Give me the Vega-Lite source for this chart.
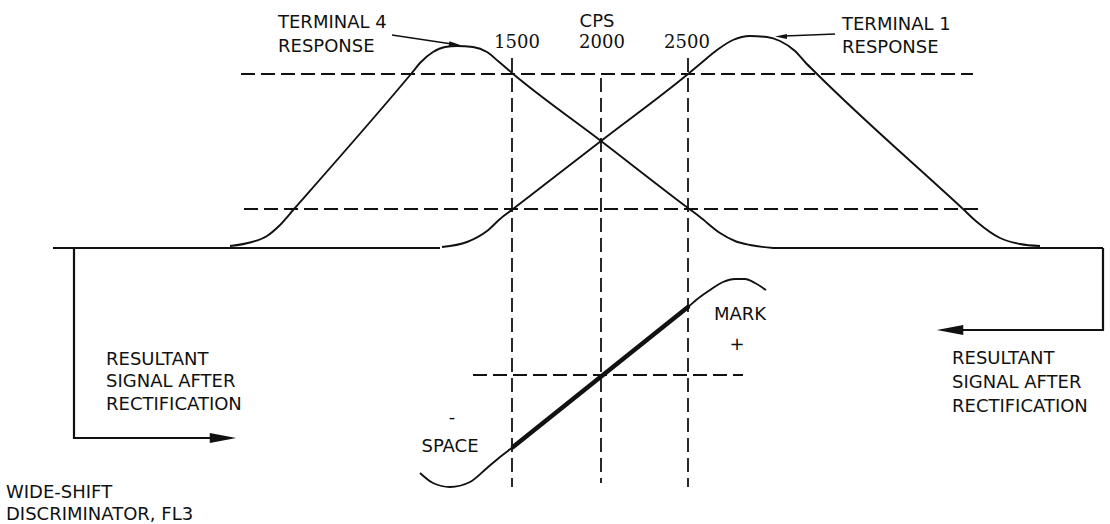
{
  "$schema": "https://vega.github.io/schema/vega-lite/v6.json",
  "width": 1110,
  "height": 524,
  "autosize": {"type": "fit", "contains": "padding"},
  "padding": 0,
  "background": "white",
  "config": {"view": {"stroke": null}},
  "datasets": {
    "curves": [
      {"g": "t4", "o": 1, "x": 230, "y": 246}, {"g": "t4", "o": 2, "x": 252, "y": 242}, {"g": "t4", "o": 3, "x": 267, "y": 236},
      {"g": "t4", "o": 4, "x": 279, "y": 226}, {"g": "t4", "o": 5, "x": 294, "y": 209}, {"g": "t4", "o": 6, "x": 411, "y": 74},
      {"g": "t4", "o": 7, "x": 421, "y": 62}, {"g": "t4", "o": 8, "x": 433, "y": 52}, {"g": "t4", "o": 9, "x": 445, "y": 47},
      {"g": "t4", "o": 10, "x": 457, "y": 46}, {"g": "t4", "o": 11, "x": 473, "y": 47}, {"g": "t4", "o": 12, "x": 487, "y": 52},
      {"g": "t4", "o": 13, "x": 498, "y": 61}, {"g": "t4", "o": 14, "x": 512, "y": 73}, {"g": "t4", "o": 15, "x": 601, "y": 141},
      {"g": "t4", "o": 16, "x": 688, "y": 208}, {"g": "t4", "o": 17, "x": 700, "y": 217}, {"g": "t4", "o": 18, "x": 720, "y": 233},
      {"g": "t4", "o": 19, "x": 735, "y": 241}, {"g": "t4", "o": 20, "x": 750, "y": 245}, {"g": "t4", "o": 21, "x": 773, "y": 248},
      {"g": "t1", "o": 1, "x": 442, "y": 247}, {"g": "t1", "o": 2, "x": 467, "y": 242}, {"g": "t1", "o": 3, "x": 487, "y": 231},
      {"g": "t1", "o": 4, "x": 500, "y": 219}, {"g": "t1", "o": 5, "x": 513, "y": 209}, {"g": "t1", "o": 6, "x": 601, "y": 141},
      {"g": "t1", "o": 7, "x": 688, "y": 74}, {"g": "t1", "o": 8, "x": 700, "y": 64}, {"g": "t1", "o": 9, "x": 717, "y": 50},
      {"g": "t1", "o": 10, "x": 733, "y": 40}, {"g": "t1", "o": 11, "x": 750, "y": 36}, {"g": "t1", "o": 12, "x": 767, "y": 37},
      {"g": "t1", "o": 13, "x": 780, "y": 41}, {"g": "t1", "o": 14, "x": 795, "y": 51}, {"g": "t1", "o": 15, "x": 805, "y": 62},
      {"g": "t1", "o": 16, "x": 817, "y": 74}, {"g": "t1", "o": 17, "x": 963, "y": 209}, {"g": "t1", "o": 18, "x": 977, "y": 222},
      {"g": "t1", "o": 19, "x": 1000, "y": 238}, {"g": "t1", "o": 20, "x": 1020, "y": 244}, {"g": "t1", "o": 21, "x": 1040, "y": 246},
      {"g": "s", "o": 1, "x": 420, "y": 473}, {"g": "s", "o": 2, "x": 433, "y": 483}, {"g": "s", "o": 3, "x": 450, "y": 487},
      {"g": "s", "o": 4, "x": 470, "y": 482}, {"g": "s", "o": 5, "x": 487, "y": 468}, {"g": "s", "o": 6, "x": 500, "y": 457},
      {"g": "s", "o": 7, "x": 513, "y": 447}, {"g": "s", "o": 8, "x": 602, "y": 375}, {"g": "s", "o": 9, "x": 688, "y": 307},
      {"g": "s", "o": 10, "x": 700, "y": 297}, {"g": "s", "o": 11, "x": 710, "y": 290}, {"g": "s", "o": 12, "x": 723, "y": 282},
      {"g": "s", "o": 13, "x": 735, "y": 279}, {"g": "s", "o": 14, "x": 745, "y": 279}, {"g": "s", "o": 15, "x": 755, "y": 283},
      {"g": "s", "o": 16, "x": 766, "y": 290}
    ],
    "polylines": [
      {"g": "baseL", "o": 1, "x": 53, "y": 248}, {"g": "baseL", "o": 2, "x": 440, "y": 248},
      {"g": "baseR", "o": 1, "x": 773, "y": 248}, {"g": "baseR", "o": 2, "x": 1103, "y": 248},
      {"g": "brL", "o": 1, "x": 74, "y": 248}, {"g": "brL", "o": 2, "x": 74, "y": 438}, {"g": "brL", "o": 3, "x": 215, "y": 438},
      {"g": "brR", "o": 1, "x": 1103, "y": 248}, {"g": "brR", "o": 2, "x": 1103, "y": 330}, {"g": "brR", "o": 3, "x": 960, "y": 330}
    ],
    "pointers": [
      {"g": "a4", "o": 1, "x": 392, "y": 35}, {"g": "a4", "o": 2, "x": 452, "y": 44},
      {"g": "a1", "o": 1, "x": 835, "y": 34}, {"g": "a1", "o": 2, "x": 785, "y": 36}
    ],
    "thick": [
      {"g": "lin", "o": 1, "x": 513, "y": 447}, {"g": "lin", "o": 2, "x": 688, "y": 307}
    ],
    "dashed": [
      {"g": "up", "o": 1, "x": 241, "y": 74}, {"g": "up", "o": 2, "x": 973, "y": 74},
      {"g": "lo", "o": 1, "x": 244, "y": 209}, {"g": "lo", "o": 2, "x": 978, "y": 209},
      {"g": "v1500", "o": 1, "x": 512, "y": 58}, {"g": "v1500", "o": 2, "x": 512, "y": 487},
      {"g": "v2000", "o": 1, "x": 601, "y": 78}, {"g": "v2000", "o": 2, "x": 601, "y": 483},
      {"g": "v2500", "o": 1, "x": 688, "y": 58}, {"g": "v2500", "o": 2, "x": 688, "y": 487},
      {"g": "disc", "o": 1, "x": 473, "y": 375}, {"g": "disc", "o": 2, "x": 743, "y": 375}
    ],
    "heads": [
      {"k": "bigR", "x": 223, "y": 438},
      {"k": "bigL", "x": 950, "y": 330},
      {"k": "smallR", "x": 455, "y": 44.5},
      {"k": "smallL", "x": 781, "y": 36.5}
    ],
    "labels": [
      {"k": "left", "t": "TERMINAL 4", "x": 278, "y": 23},
      {"k": "left", "t": "RESPONSE", "x": 278, "y": 47},
      {"k": "left", "t": "TERMINAL 1", "x": 842, "y": 25},
      {"k": "left", "t": "RESPONSE", "x": 842, "y": 48},
      {"k": "left", "t": "RESULTANT", "x": 106, "y": 360},
      {"k": "left", "t": "SIGNAL AFTER", "x": 106, "y": 382},
      {"k": "left", "t": "RECTIFICATION", "x": 106, "y": 405},
      {"k": "left", "t": "RESULTANT", "x": 952, "y": 359},
      {"k": "left", "t": "SIGNAL AFTER", "x": 952, "y": 383},
      {"k": "left", "t": "RECTIFICATION", "x": 952, "y": 407},
      {"k": "left", "t": "WIDE-SHIFT", "x": 6, "y": 493},
      {"k": "left", "t": "DISCRIMINATOR, FL3", "x": 6, "y": 515},
      {"k": "center", "t": "CPS", "x": 597, "y": 22},
      {"k": "center", "t": "MARK", "x": 740, "y": 315},
      {"k": "center", "t": "+", "x": 737, "y": 345},
      {"k": "center", "t": "-", "x": 452, "y": 418},
      {"k": "center", "t": "SPACE", "x": 450, "y": 447},
      {"k": "num", "t": "1500", "x": 517, "y": 43},
      {"k": "num", "t": "2000", "x": 602, "y": 43},
      {"k": "num", "t": "2500", "x": 687, "y": 43}
    ]
  },
  "layer": [
    {
      "data": {"name": "dashed"},
      "mark": {"type": "line", "color": "#111", "strokeWidth": 1.8, "strokeDash": [14, 6]},
      "encoding": {
        "x": {"field": "x", "type": "quantitative", "scale": {"domain": [0, 1110], "nice": false, "zero": false}, "axis": null},
        "y": {"field": "y", "type": "quantitative", "scale": {"domain": [0, 524], "nice": false, "zero": false, "reverse": true}, "axis": null},
        "detail": {"field": "g"},
        "order": {"field": "o", "type": "quantitative"}
      }
    },
    {
      "data": {"name": "curves"},
      "mark": {"type": "line", "color": "#111", "strokeWidth": 1.9, "interpolate": "monotone"},
      "encoding": {
        "x": {"field": "x", "type": "quantitative", "scale": {"domain": [0, 1110], "nice": false, "zero": false}, "axis": null},
        "y": {"field": "y", "type": "quantitative", "scale": {"domain": [0, 524], "nice": false, "zero": false, "reverse": true}, "axis": null},
        "detail": {"field": "g"},
        "order": {"field": "o", "type": "quantitative"}
      }
    },
    {
      "data": {"name": "polylines"},
      "mark": {"type": "line", "color": "#111", "strokeWidth": 2.2},
      "encoding": {
        "x": {"field": "x", "type": "quantitative", "scale": {"domain": [0, 1110], "nice": false, "zero": false}, "axis": null},
        "y": {"field": "y", "type": "quantitative", "scale": {"domain": [0, 524], "nice": false, "zero": false, "reverse": true}, "axis": null},
        "detail": {"field": "g"},
        "order": {"field": "o", "type": "quantitative"}
      }
    },
    {
      "data": {"name": "pointers"},
      "mark": {"type": "line", "color": "#111", "strokeWidth": 1.3},
      "encoding": {
        "x": {"field": "x", "type": "quantitative", "scale": {"domain": [0, 1110], "nice": false, "zero": false}, "axis": null},
        "y": {"field": "y", "type": "quantitative", "scale": {"domain": [0, 524], "nice": false, "zero": false, "reverse": true}, "axis": null},
        "detail": {"field": "g"},
        "order": {"field": "o", "type": "quantitative"}
      }
    },
    {
      "data": {"name": "thick"},
      "mark": {"type": "line", "color": "#111", "strokeWidth": 4.5, "strokeCap": "round"},
      "encoding": {
        "x": {"field": "x", "type": "quantitative", "scale": {"domain": [0, 1110], "nice": false, "zero": false}, "axis": null},
        "y": {"field": "y", "type": "quantitative", "scale": {"domain": [0, 524], "nice": false, "zero": false, "reverse": true}, "axis": null},
        "detail": {"field": "g"},
        "order": {"field": "o", "type": "quantitative"}
      }
    },
    {
      "data": {"name": "heads"},
      "transform": [{"filter": "datum.k === 'bigR'"}],
      "mark": {"type": "point", "filled": true, "color": "#111", "opacity": 1, "size": 700, "shape": "M -1 -0.38 L 1 0 L -1 0.38 Z"},
      "encoding": {
        "x": {"field": "x", "type": "quantitative", "scale": {"domain": [0, 1110], "nice": false, "zero": false}, "axis": null},
        "y": {"field": "y", "type": "quantitative", "scale": {"domain": [0, 524], "nice": false, "zero": false, "reverse": true}, "axis": null}
      }
    },
    {
      "data": {"name": "heads"},
      "transform": [{"filter": "datum.k === 'bigL'"}],
      "mark": {"type": "point", "filled": true, "color": "#111", "opacity": 1, "size": 700, "shape": "M 1 -0.38 L -1 0 L 1 0.38 Z"},
      "encoding": {
        "x": {"field": "x", "type": "quantitative", "scale": {"domain": [0, 1110], "nice": false, "zero": false}, "axis": null},
        "y": {"field": "y", "type": "quantitative", "scale": {"domain": [0, 524], "nice": false, "zero": false, "reverse": true}, "axis": null}
      }
    },
    {
      "data": {"name": "heads"},
      "transform": [{"filter": "datum.k === 'smallR'"}],
      "mark": {"type": "point", "filled": true, "color": "#111", "opacity": 1, "size": 144, "angle": 8, "shape": "M -1 -0.4 L 1 0 L -1 0.4 Z"},
      "encoding": {
        "x": {"field": "x", "type": "quantitative", "scale": {"domain": [0, 1110], "nice": false, "zero": false}, "axis": null},
        "y": {"field": "y", "type": "quantitative", "scale": {"domain": [0, 524], "nice": false, "zero": false, "reverse": true}, "axis": null}
      }
    },
    {
      "data": {"name": "heads"},
      "transform": [{"filter": "datum.k === 'smallL'"}],
      "mark": {"type": "point", "filled": true, "color": "#111", "opacity": 1, "size": 144, "shape": "M 1 -0.4 L -1 0 L 1 0.4 Z"},
      "encoding": {
        "x": {"field": "x", "type": "quantitative", "scale": {"domain": [0, 1110], "nice": false, "zero": false}, "axis": null},
        "y": {"field": "y", "type": "quantitative", "scale": {"domain": [0, 524], "nice": false, "zero": false, "reverse": true}, "axis": null}
      }
    },
    {
      "data": {"name": "labels"},
      "transform": [{"filter": "datum.k === 'left'"}],
      "mark": {"type": "text", "align": "left", "baseline": "middle", "font": "DejaVu Sans", "fontSize": 18, "color": "#111"},
      "encoding": {
        "x": {"field": "x", "type": "quantitative", "scale": {"domain": [0, 1110], "nice": false, "zero": false}, "axis": null},
        "y": {"field": "y", "type": "quantitative", "scale": {"domain": [0, 524], "nice": false, "zero": false, "reverse": true}, "axis": null},
        "text": {"field": "t"}
      }
    },
    {
      "data": {"name": "labels"},
      "transform": [{"filter": "datum.k === 'center'"}],
      "mark": {"type": "text", "align": "center", "baseline": "middle", "font": "DejaVu Sans", "fontSize": 18, "color": "#111"},
      "encoding": {
        "x": {"field": "x", "type": "quantitative", "scale": {"domain": [0, 1110], "nice": false, "zero": false}, "axis": null},
        "y": {"field": "y", "type": "quantitative", "scale": {"domain": [0, 524], "nice": false, "zero": false, "reverse": true}, "axis": null},
        "text": {"field": "t"}
      }
    },
    {
      "data": {"name": "labels"},
      "transform": [{"filter": "datum.k === 'num'"}],
      "mark": {"type": "text", "align": "center", "baseline": "middle", "font": "DejaVu Serif", "fontSize": 18, "color": "#111"},
      "encoding": {
        "x": {"field": "x", "type": "quantitative", "scale": {"domain": [0, 1110], "nice": false, "zero": false}, "axis": null},
        "y": {"field": "y", "type": "quantitative", "scale": {"domain": [0, 524], "nice": false, "zero": false, "reverse": true}, "axis": null},
        "text": {"field": "t"}
      }
    }
  ]
}
